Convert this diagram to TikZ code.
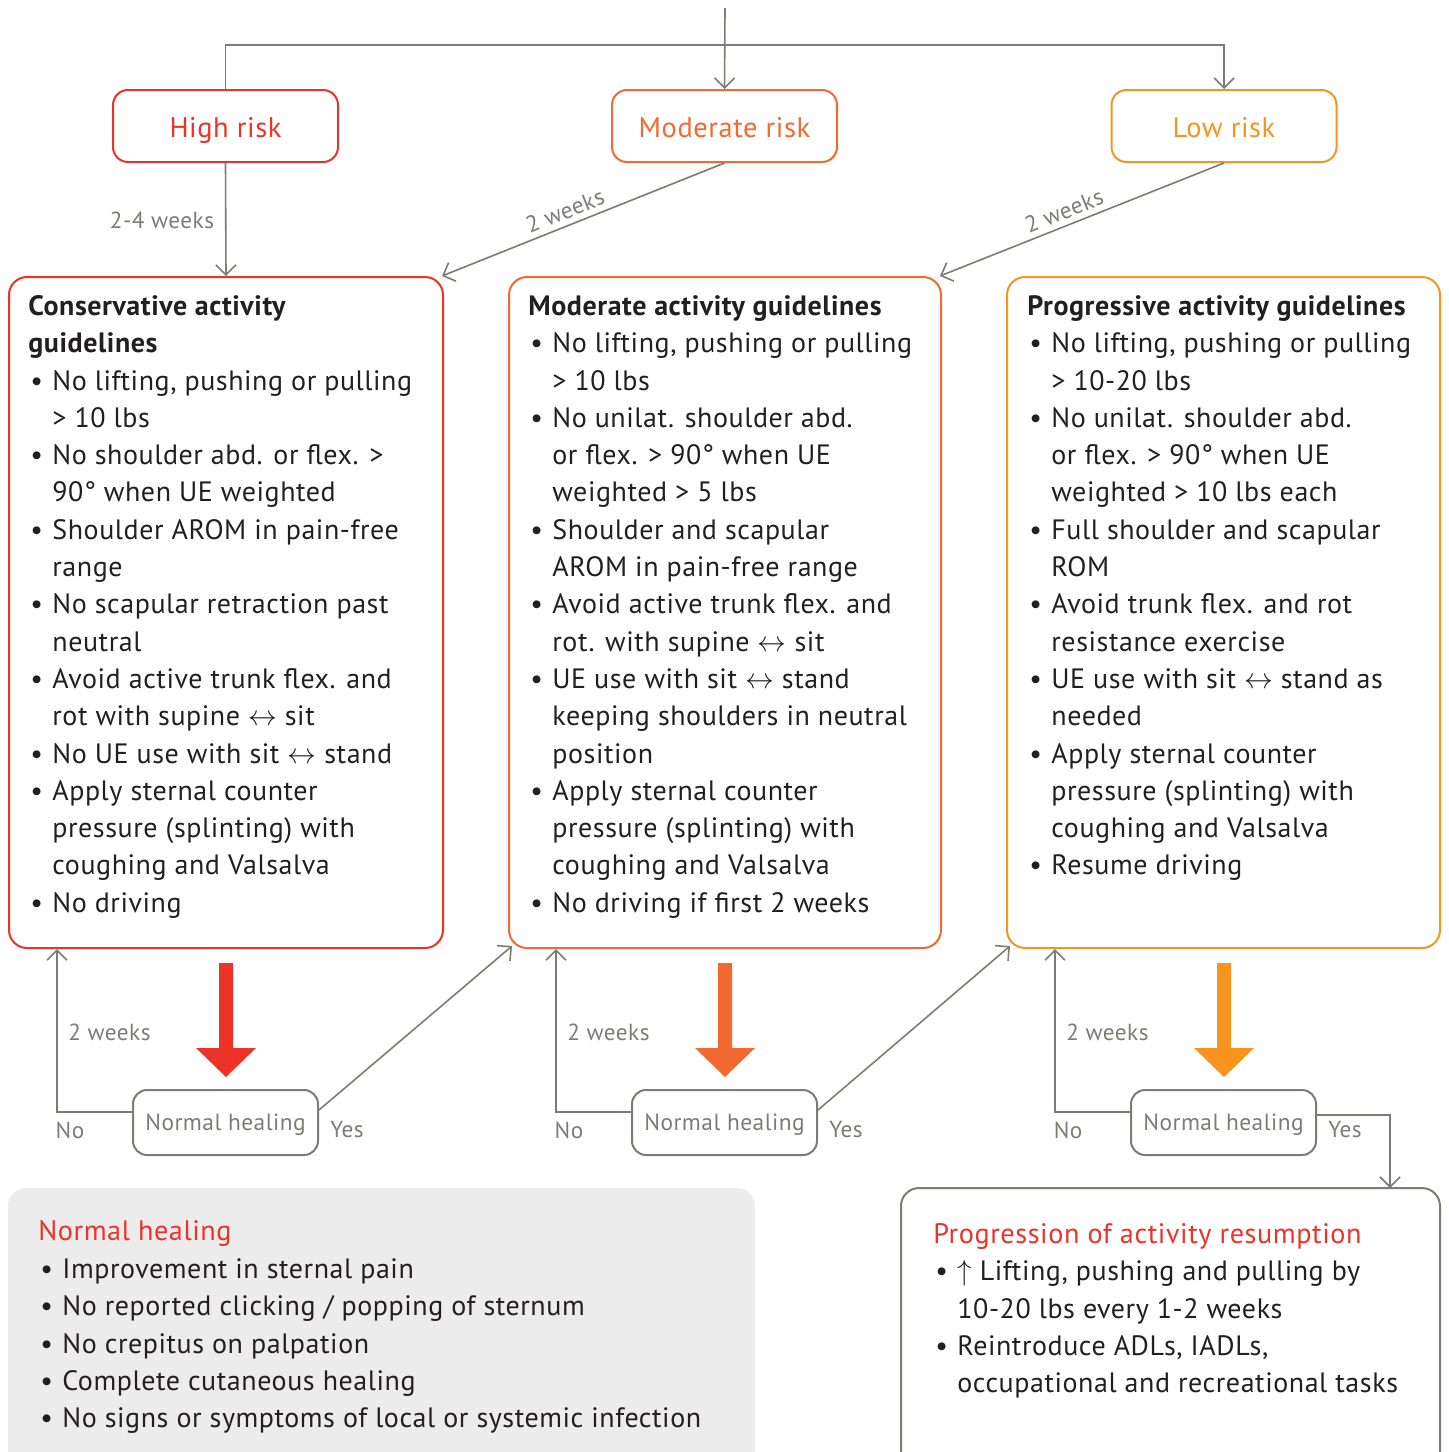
\documentclass[tikz,border=0pt]{standalone}
\usepackage{fontspec}
\setmainfont{PT Sans}[LetterSpace=2]
\usetikzlibrary{arrows.meta}

\definecolor{hirisk}{RGB}{237,50,39}
\definecolor{modrisk}{RGB}{242,106,48}
\definecolor{lowrisk}{RGB}{247,148,30}
\definecolor{wire}{RGB}{128,122,117}
\definecolor{ink}{RGB}{35,31,32}
\definecolor{notefill}{RGB}{236,236,236}

\newcommand{\bul}{\makebox[12pt][l]{\hspace{1pt}\textbullet}}
\newcommand{\ind}{\hspace*{12pt}}
\newcommand{\tops}{\rule{0pt}{12pt}}
\newcommand{\lr}{$\leftrightarrow$}
\newcommand{\notehead}[1]{{\color{hirisk}\fontsize{14.1}{18.65}\selectfont #1}}

\tikzset{
  riskbox/.style={draw=#1, text=#1, line width=1pt, rounded corners=7.5pt,
    minimum width=112.5pt, minimum height=36pt, inner sep=0pt,
    text height=12pt, text depth=1pt, font=\fontsize{14.2}{17}\selectfont},
  guidebox/.style={draw=#1, line width=1pt, rounded corners=9pt,
    minimum height=335.5pt, inner sep=0pt},
  guidetext/.style={anchor=north west, inner sep=0pt, align=left, text=ink,
    font=\fontsize{14}{18.65}\selectfont},
  healbox/.style={draw=wire, text=wire, line width=1pt, rounded corners=7pt,
    minimum width=92.5pt, minimum height=32.5pt, inner sep=0pt,
    text height=9pt, text depth=1.5pt, font=\fontsize{11.7}{13}\selectfont},
  wirelabel/.style={text=wire, inner sep=0pt, font=\fontsize{11.6}{13}\selectfont},
  wireline/.style={draw=wire, line width=0.8pt},
  flow/.style={wireline, -{Straight Barb[length=5pt,width=10pt]}},
}

\begin{document}
\begin{tikzpicture}[x=0.5pt,y=-0.5pt]
  \clip (0,0) rectangle (1448,1452);

  % risk levels
  \node[riskbox=hirisk] (high) at (225.5,126) {High risk};
  \node[riskbox=modrisk] (moder) at (724.5,126) {Moderate risk};
  \node[riskbox=lowrisk] (low) at (1224,126) {Low risk};

  \coordinate (entry) at (725,8);
  \coordinate (split) at (725,45);
  \draw[flow] (entry) -- (moder.north);
  \draw[wireline] (high.north) |- (split);
  \draw[flow] (split) -| (low.north);

  % guideline boxes
  \node[guidebox=hirisk, minimum width=217pt] (cons) at (226,612.5) {};
  \node[guidebox=modrisk, minimum width=216pt] (mods) at (725,612.5) {};
  \node[guidebox=lowrisk, minimum width=216.5pt] (prog) at (1223.5,612.5) {};

  \draw[flow] (high.south) -- (cons.north);
  \draw[flow] (moder.south) -- ([xshift=-1pt]cons.north east);
  \draw[flow] (low.south) -- ([xshift=-1pt]mods.north east);
  \node[wirelabel] (wk1) at (162,220) {2-4 weeks};
  \node[wirelabel, rotate=21.9] (wk2) at (565,211) {2 weeks};
  \node[wirelabel, rotate=21.9] (wk3) at (1064,211) {2 weeks};

  \node[guidetext] (constxt) at (28,291) {\tops\textbf{Conservative activity}\\
    \textbf{guidelines}\\
    \bul No lifting, pushing or pulling\\
    \ind > 10 lbs\\
    \bul No shoulder abd. or flex. >\\
    \ind 90° when UE weighted\\
    \bul Shoulder AROM in pain-free\\
    \ind range\\
    \bul No scapular retraction past\\
    \ind neutral\\
    \bul Avoid active trunk flex. and\\
    \ind rot with supine \lr{} sit\\
    \bul No UE use with sit \lr{} stand\\
    \bul Apply sternal counter\\
    \ind pressure (splinting) with\\
    \ind coughing and Valsalva\\
    \bul No driving};

  \node[guidetext] (modstxt) at (528,291) {\tops\textbf{Moderate activity guidelines}\\
    \bul No lifting, pushing or pulling\\
    \ind > 10 lbs\\
    \bul No unilat. shoulder abd.\\
    \ind or flex. > 90° when UE\\
    \ind weighted > 5 lbs\\
    \bul Shoulder and scapular\\
    \ind AROM in pain-free range\\
    \bul Avoid active trunk flex. and\\
    \ind rot. with supine \lr{} sit\\
    \bul UE use with sit \lr{} stand\\
    \ind keeping shoulders in neutral\\
    \ind position\\
    \bul Apply sternal counter\\
    \ind pressure (splinting) with\\
    \ind coughing and Valsalva\\
    \bul No driving if first 2 weeks};

  \node[guidetext] (progtxt) at (1027,291) {\tops\textbf{Progressive activity guidelines}\\
    \bul No lifting, pushing or pulling\\
    \ind > 10-20 lbs\\
    \bul No unilat. shoulder abd.\\
    \ind or flex. > 90° when UE\\
    \ind weighted > 10 lbs each\\
    \bul Full shoulder and scapular\\
    \ind ROM\\
    \bul Avoid trunk flex. and rot\\
    \ind resistance exercise\\
    \bul UE use with sit \lr{} stand as\\
    \ind needed\\
    \bul Apply sternal counter\\
    \ind pressure (splinting) with\\
    \ind coughing and Valsalva\\
    \bul Resume driving};

  % thick arrows down to the healing check
  \foreach \cx/\col in {226/hirisk, 725/modrisk, 1224/lowrisk}
    \fill[\col] (\cx-7,963) -- (\cx+7,963) -- (\cx+7,1048) -- (\cx+30,1048)
      -- (\cx,1077) -- (\cx-30,1048) -- (\cx-7,1048) -- cycle;

  % healing checks
  \node[healbox] (heal1) at (225.5,1122.5) {Normal healing};
  \node[healbox] (heal2) at (724.5,1122.5) {Normal healing};
  \node[healbox] (heal3) at (1223.5,1122.5) {Normal healing};

  \draw[flow] ([yshift=5.25pt]heal1.west) -| ([xshift=24.5pt]cons.south west);
  \draw[flow] ([yshift=5.25pt]heal2.west) -| ([xshift=24pt]mods.south west);
  \draw[flow] ([yshift=5.25pt]heal3.west) -| ([xshift=24.5pt]prog.south west);
  \draw[flow] ([yshift=6.25pt]heal1.east) -- ([xshift=2pt,yshift=1.5pt]mods.south west);
  \draw[flow] ([yshift=6.25pt]heal2.east) -- ([xshift=2pt,yshift=1.5pt]prog.south west);
  \coordinate (progin) at (1390,1188);
  \draw[flow] ([yshift=3.75pt]heal3.east) -| (progin);

  \foreach \cx/\n in {0/1, 499/2, 998/3} {
    \node[wirelabel, anchor=west] (back\n) at (68+\cx,1032) {2 weeks};
    \node[wirelabel] (no\n) at (70+\cx,1130) {No};
    \node[wirelabel] (yes\n) at (347+\cx,1130) {Yes};
  }

  % notes at the bottom
  \node[fill=notefill, rounded corners=9pt, minimum width=373.5pt,
    minimum height=146pt, inner sep=0pt] (healnote) at (381.5,1334) {};
  \node[draw=wire, line width=1pt, rounded corners=9pt, minimum width=269.5pt,
    minimum height=146pt, inner sep=0pt] (prognote) at (1170.5,1334) {};

  \node[guidetext] (healtxt) at (38,1216) {\tops\notehead{Normal healing}\\[0.35pt]
    \bul Improvement in sternal pain\\
    \bul No reported clicking / popping of sternum\\
    \bul No crepitus on palpation\\
    \bul Complete cutaneous healing\\
    \bul No signs or symptoms of local or systemic infection};

  \node[guidetext] (resumetxt) at (933,1219) {\tops\notehead{Progression of activity resumption}\\
    \bul $\uparrow$ Lifting, pushing and pulling by\\
    \ind 10-20 lbs every 1-2 weeks\\
    \bul Reintroduce ADLs, IADLs,\\
    \ind occupational and recreational tasks};
\end{tikzpicture}
\end{document}
